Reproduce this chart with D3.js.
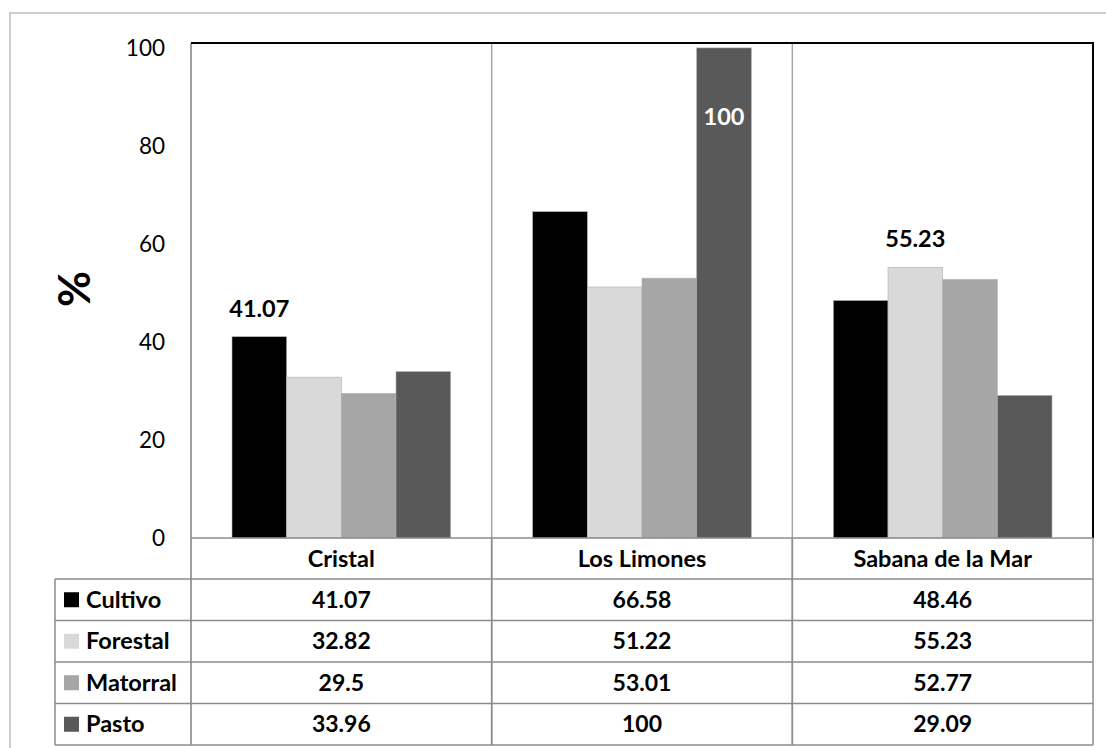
<!DOCTYPE html>
<html>
<head>
<meta charset="utf-8">
<script src="https://cdn.jsdelivr.net/npm/d3@7"></script>
<style>
  html, body { margin: 0; padding: 0; background: #fff; }
  svg { display: block; font-family: Lato, "Open Sans", sans-serif; }
</style>
</head>
<body>
<svg id="chart" width="1106" height="748"></svg>
<script>
// Land-use categories per site (%)
const sites = ["Cristal", "Los Limones", "Sabana de la Mar"];
const seriesNames = ["Cultivo", "Forestal", "Matorral", "Pasto"];
const cultivo = [41.07, 66.58, 48.46];
const forestal = [32.82, 51.22, 55.23];
const matorral = [29.5, 53.01, 52.77];
const pasto = [33.96, 100, 29.09];
const seriesColors = ["#000000", "#d9d9d9", "#a6a6a6", "#595959"];
const yTicks = [0, 20, 40, 60, 80, 100];
// Values that carry a label on the chart: [series index, site index, placement]
const labelled = [[0, 0, "above"], [3, 1, "inside"], [1, 2, "above"]];

const values = [cultivo, forestal, matorral, pasto];

const svg = d3.select("#chart");

const plot = { left: 191, right: 1093, top: 43, bottom: 538 };
const table = { left: 55, headerBottom: 579, rowH: 41.5 };

// Outer chart frame
svg.append("path")
  .attr("d", "M10,760 L10,13 L1120,13")
  .attr("fill", "none").attr("stroke", "#bfbfbf").attr("stroke-width", 1.5);

const y = d3.scaleLinear().domain([0, 101]).range([plot.bottom, plot.top]);
const x0 = d3.scaleBand().domain(sites).range([plot.left, plot.right]).paddingInner(0).paddingOuter(0);
// Excel-style gap width of 150%: group occupies 4 of 5.5 bar widths
const x1 = d3.scaleBand().domain(seriesNames).range([0, x0.bandwidth()])
  .paddingInner(0).paddingOuter(0.75);

// Bars
const g = svg.append("g");
sites.forEach((site, si) => {
  seriesNames.forEach((name, k) => {
    const v = values[k][si];
    g.append("rect")
      .attr("x", x0(site) + x1(name))
      .attr("y", y(v))
      .attr("width", x1.bandwidth())
      .attr("height", y(0) - y(v))
      .attr("fill", seriesColors[k])
      .attr("stroke", "#b0b0b0")
      .attr("stroke-width", 0.6);
  });
});

// Category separators inside the plot
sites.slice(1).forEach(site => {
  svg.append("line")
    .attr("x1", x0(site)).attr("x2", x0(site))
    .attr("y1", plot.top).attr("y2", plot.bottom)
    .attr("stroke", "#a6a6a6").attr("stroke-width", 1.5);
});

// Y axis tick labels
const yAxis = d3.axisLeft(y).tickValues(yTicks).tickSize(0).tickPadding(26);
const ya = svg.append("g").attr("transform", `translate(${plot.left},0)`).call(yAxis);
ya.select(".domain").remove();
ya.selectAll("text")
  .attr("font-family", "Lato, sans-serif")
  .attr("font-size", 22.5)
  .attr("fill", "#000");

// Y axis title
svg.append("text")
  .attr("transform", "translate(90,289) rotate(-90)")
  .attr("text-anchor", "middle")
  .attr("font-size", 44).attr("font-weight", 700)
  .text("%");

// Plot frame
svg.append("line").attr("x1", plot.left).attr("x2", plot.left)
  .attr("y1", plot.top).attr("y2", table.headerBottom + 4 * table.rowH)
  .attr("stroke", "#7f7f7f").attr("stroke-width", 1.5);
svg.append("path")
  .attr("d", `M${plot.left},${plot.top} L${plot.right},${plot.top} L${plot.right},${plot.bottom}`)
  .attr("fill", "none").attr("stroke", "#000").attr("stroke-width", 2);

// Data table
const gridColor = "#8c8c8c";
const tableBottom = table.headerBottom + 4 * table.rowH;
const tg = svg.append("g").attr("stroke", gridColor).attr("stroke-width", 1.5);
// horizontal rules
tg.append("line").attr("x1", plot.left).attr("x2", plot.right).attr("y1", plot.bottom).attr("y2", plot.bottom);
for (let r = 0; r <= 4; r++) {
  const yy = table.headerBottom + r * table.rowH;
  tg.append("line").attr("x1", table.left).attr("x2", plot.right).attr("y1", yy).attr("y2", yy);
}
// vertical rules
tg.append("line").attr("x1", table.left).attr("x2", table.left).attr("y1", table.headerBottom).attr("y2", tableBottom);
sites.forEach((site, si) => {
  const xx = x0(site) + x0.bandwidth();
  tg.append("line").attr("x1", xx).attr("x2", xx).attr("y1", plot.bottom).attr("y2", tableBottom);
});
sites.slice(1).forEach(site => {
  tg.append("line").attr("x1", x0(site)).attr("x2", x0(site)).attr("y1", plot.bottom).attr("y2", tableBottom);
});

// header row: site names
sites.forEach(site => {
  svg.append("text")
    .attr("x", x0(site) + x0.bandwidth() / 2)
    .attr("y", (plot.bottom + table.headerBottom) / 2)
    .attr("dy", "0.35em")
    .attr("text-anchor", "middle")
    .attr("font-size", 23.5).attr("font-weight", 700)
    .text(site);
});

// series rows
seriesNames.forEach((name, k) => {
  const cy = table.headerBottom + (k + 0.5) * table.rowH;
  svg.append("rect")
    .attr("x", 64).attr("y", cy - 7.5).attr("width", 15).attr("height", 15)
    .attr("fill", seriesColors[k]);
  svg.append("text")
    .attr("x", 86).attr("y", cy).attr("dy", "0.35em")
    .attr("font-size", 23.5).attr("font-weight", 700)
    .text(name);
  sites.forEach((site, si) => {
    svg.append("text")
      .attr("x", x0(site) + x0.bandwidth() / 2)
      .attr("y", cy).attr("dy", "0.35em")
      .attr("text-anchor", "middle")
      .attr("font-size", 23).attr("font-weight", 700)
      .text(values[k][si]);
  });
});

// Data labels on selected bars
labelled.forEach(([k, si, where]) => {
  const v = values[k][si];
  const cx = x0(sites[si]) + x1(seriesNames[k]) + x1.bandwidth() / 2;
  svg.append("text")
    .attr("x", cx)
    .attr("y", where === "above" ? y(v) - 20 : y(v) + 77)
    .attr("text-anchor", "middle")
    .attr("font-size", 23.5).attr("font-weight", 700)
    .attr("fill", where === "above" ? "#000" : "#fff")
    .text(v);
});
</script>
</body>
</html>
